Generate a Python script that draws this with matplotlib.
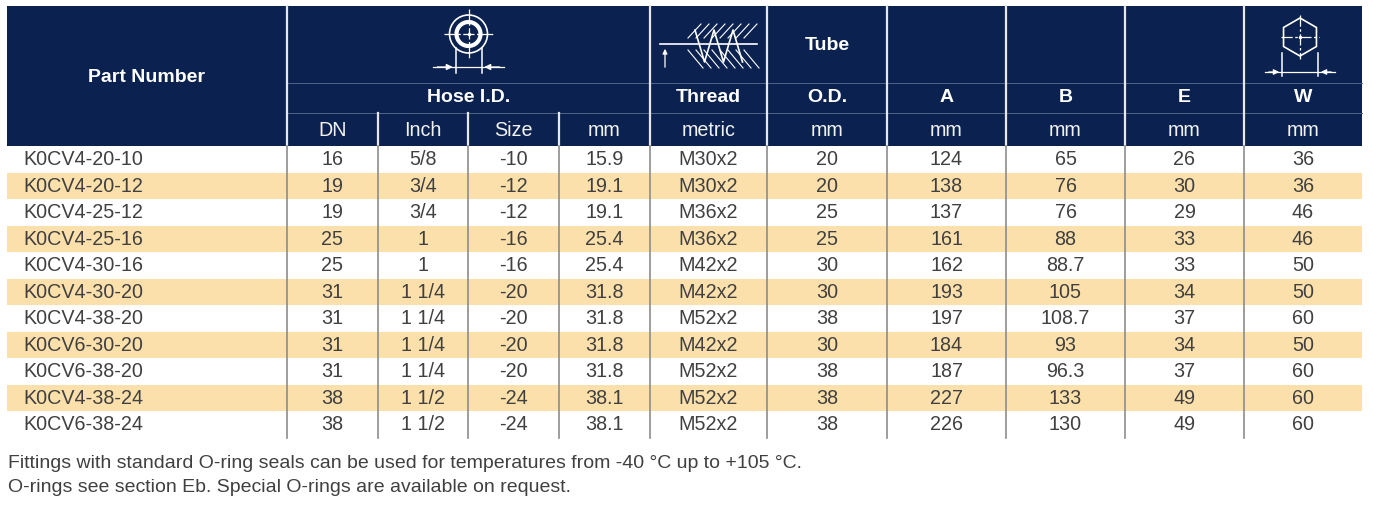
import numpy as np
import matplotlib.pyplot as plt
from matplotlib.patches import Rectangle, Circle, RegularPolygon

plt.rcParams['font.family'] = ['Liberation Sans', 'DejaVu Sans']

# table content
part_numbers = ["K0CV4-20-10", "K0CV4-20-12", "K0CV4-25-12", "K0CV4-25-16",
                "K0CV4-30-16", "K0CV4-30-20", "K0CV4-38-20", "K0CV6-30-20",
                "K0CV6-38-20", "K0CV4-38-24", "K0CV6-38-24"]
dn = ["16", "19", "19", "25", "25", "31", "31", "31", "31", "38", "38"]
inch = ["5/8", "3/4", "3/4", "1", "1", "1 1/4", "1 1/4", "1 1/4", "1 1/4", "1 1/2", "1 1/2"]
size = ["-10", "-12", "-12", "-16", "-16", "-20", "-20", "-20", "-20", "-24", "-24"]
hose_mm = ["15.9", "19.1", "19.1", "25.4", "25.4", "31.8", "31.8", "31.8", "31.8", "38.1", "38.1"]
thread = ["M30x2", "M30x2", "M36x2", "M36x2", "M42x2", "M42x2", "M52x2", "M42x2",
          "M52x2", "M52x2", "M52x2"]
tube_od = ["20", "20", "25", "25", "30", "30", "38", "30", "38", "38", "38"]
dim_a = ["124", "138", "137", "161", "162", "193", "197", "184", "187", "227", "226"]
dim_b = ["65", "76", "76", "88", "88.7", "105", "108.7", "93", "96.3", "133", "130"]
dim_e = ["26", "30", "29", "33", "33", "34", "37", "34", "37", "49", "49"]
dim_w = ["36", "36", "46", "46", "50", "50", "60", "50", "60", "60", "60"]

unit_labels = ["DN", "Inch", "Size", "mm", "metric", "mm", "mm", "mm", "mm", "mm"]
bold_labels = ["Thread", "O.D.", "A", "B", "E", "W"]
footnotes = ["Fittings with standard O-ring seals can be used for temperatures from -40 °C up to +105 °C.",
             "O-rings see section Eb. Special O-rings are available on request."]

columns = [part_numbers, dn, inch, size, hose_mm, thread, tube_od, dim_a, dim_b, dim_e, dim_w]

# layout (pixels)
col_edges = [7, 287, 378, 468, 559, 650, 767, 887, 1006, 1125, 1244, 1362]
head_top, head_bot = 6, 146
row_h = 26.5
navy = '#0b2250'
orange = '#fce0ab'
txt = '#404040'
fs = 14.2
fs_bold = 14

fig = plt.figure(figsize=(13.73, 5.15), dpi=100)
ax = fig.add_axes([0, 0, 1, 1])
ax.set_xlim(0, 1373)
ax.set_ylim(515, 0)
ax.axis('off')

left, right = col_edges[0], col_edges[-1]
centers = [(a + b) / 2 for a, b in zip(col_edges[:-1], col_edges[1:])]

# header block
ax.add_patch(Rectangle((left, head_top), right - left, head_bot - head_top, color=navy, lw=0))
for yy in (83, 113):
    ax.plot([col_edges[1], right], [yy, yy], color='#53648a', lw=0.7)
for x in [col_edges[1]] + col_edges[5:-1]:
    ax.plot([x, x], [head_top, head_bot], color='#e8e8e8', lw=1.6)
for x in col_edges[2:5]:
    ax.plot([x, x], [113, head_bot], color='#e8e8e8', lw=1.6)

ax.text(centers[0], 77, "Part Number", color='white', fontsize=fs_bold, fontweight='bold',
        ha='center', va='center')
hose_c = (col_edges[1] + col_edges[5]) / 2
ax.text(hose_c, 98, "Hose I.D.", color='white', fontsize=fs_bold, fontweight='bold',
        ha='center', va='center')
for c, lab in zip(centers[5:], bold_labels):
    ax.text(c, 98, lab, color='white', fontsize=fs_bold, fontweight='bold',
            ha='center', va='center')
ax.text(centers[6], 45, "Tube", color='white', fontsize=fs_bold, fontweight='bold',
        ha='center', va='center')
for c, lab in zip(centers[1:], unit_labels):
    ax.text(c, 130, lab, color='#f2f2f2', fontsize=fs, ha='center', va='center')

# hose icon
cx, cy = hose_c, 34
ax.add_patch(Circle((cx, cy), 19, fill=False, ec='white', lw=1.2))
ax.add_patch(Circle((cx, cy), 12, fill=False, ec='white', lw=3))
ax.plot([cx - 25, cx + 25], [cy, cy], color='white', lw=0.9, ls=(0, (9, 2, 2, 2)))
ax.plot([cx, cx], [cy - 25, cy + 25], color='white', lw=0.9, ls=(0, (9, 2, 2, 2)))
ax.plot(cx, cy, 'o', color='white', ms=1.5)
for dx in (-13, 13):
    ax.plot([cx + dx, cx + dx], [cy + 14, 73], color='white', lw=1.1)
ax.plot([cx - 36, cx + 35], [67, 67], color='white', lw=0.9)
ax.annotate('', xy=(cx - 13, 67), xytext=(cx - 34, 67),
            arrowprops=dict(arrowstyle='-|>', color='white', lw=0.9, mutation_scale=9))
ax.annotate('', xy=(cx + 13, 67), xytext=(cx + 34, 67),
            arrowprops=dict(arrowstyle='-|>', color='white', lw=0.9, mutation_scale=9))

# thread icon
tx0, tx1, ty = 660, 757, 44
ax.plot([tx0, tx1], [ty, ty], color='white', lw=1.2)
ax.annotate('', xy=(665, ty + 2), xytext=(665, 70),
            arrowprops=dict(arrowstyle='-|>', color='white', lw=0.9, mutation_scale=7))
zx = np.arange(695, 752, 9.5)
zy = np.where(np.arange(len(zx)) % 2 == 0, 30, 62)
ax.plot(zx, zy, color='white', lw=1.2)
for k in range(8):
    x0 = 688 + k * 8
    ax.plot([x0, x0 + 13], [38, 24], color='white', lw=0.8)
    ax.plot([x0, x0 + 15], [50, 68], color='white', lw=0.8)

# hex icon
hx, hy = centers[10] - 3, 37
ax.add_patch(RegularPolygon((hx, hy), 6, radius=19, orientation=0, fill=False,
                            ec='white', lw=1.2))
ax.plot([hx - 19, hx + 19], [hy, hy], color='white', lw=0.9, ls=(0, (9, 2, 2, 2)))
ax.plot([hx, hx], [hy - 22, hy + 22], color='white', lw=0.9, ls=(0, (9, 2, 2, 2)))
ax.plot(hx, hy, 'o', color='white', ms=1.5)
for dx in (-18, 18):
    ax.plot([hx + dx, hx + dx], [53, 76], color='white', lw=1.1)
ax.plot([hx - 35, hx + 35], [72, 72], color='white', lw=0.9)
ax.annotate('', xy=(hx - 18, 72), xytext=(hx - 34, 72),
            arrowprops=dict(arrowstyle='-|>', color='white', lw=0.9, mutation_scale=8))
ax.annotate('', xy=(hx + 18, 72), xytext=(hx + 34, 72),
            arrowprops=dict(arrowstyle='-|>', color='white', lw=0.9, mutation_scale=8))

# body rows
n_rows = len(part_numbers)
for i in range(n_rows):
    top = head_bot + i * row_h
    if i % 2 == 1:
        ax.add_patch(Rectangle((left, top), right - left, row_h, color=orange, lw=0))
    yc = top + row_h / 2 + 0.5
    for j, col in enumerate(columns):
        if j == 0:
            ax.text(left + 16, yc, col[i], color=txt, fontsize=fs, ha='left', va='center')
        else:
            ax.text(centers[j], yc, col[i], color=txt, fontsize=fs, ha='center', va='center')

body_bot = head_bot + n_rows * row_h
for x in col_edges[1:-1]:
    ax.plot([x, x], [head_bot, body_bot], color='#8c8c8c', lw=1.2)

# notes
for k, note in enumerate(footnotes):
    ax.text(8, 463 + k * 24, note, color=txt, fontsize=14, ha='left', va='center')

fig.savefig('out.png', dpi=100)
